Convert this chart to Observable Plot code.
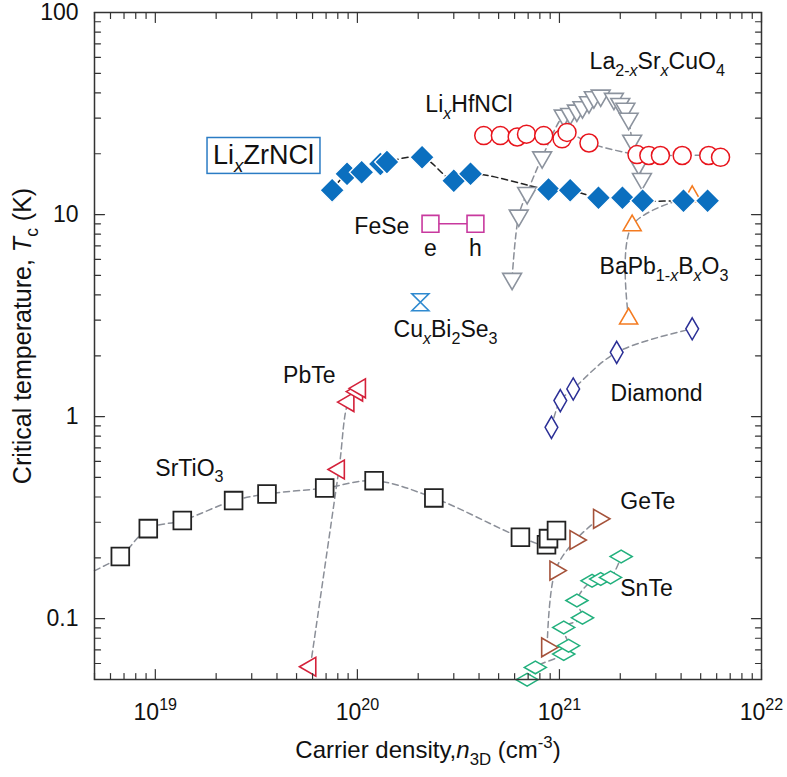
<!DOCTYPE html>
<html><head><meta charset="utf-8">
<script src="https://cdn.jsdelivr.net/npm/d3@7"></script>
<script src="https://cdn.jsdelivr.net/npm/@observablehq/plot@0.6"></script>
<style>
html,body{margin:0;padding:0;background:#fff;}
#chart svg{display:block;}
</style></head><body><div id="chart"></div>
<script>
const FONT = '"Liberation Sans", Arial, Helvetica, sans-serif';

// ---- axis settings / ticks ----
const xDomain = [5e18, 1e22];
const yDomain = [0.05, 100];
const xTickValues = [1e19, 1e20, 1e21, 1e22];
const yTickValues = [0.1, 1, 10, 100];
const minorMultipliers = [2, 3, 4, 5, 6, 7, 8, 9];

// ---- data (carrier density n3D in cm^-3, Tc in K) ----
const zrncl_n  = [7.50e19, 8.89e19, 1.05e20, 1.30e20, 1.40e20, 2.09e20, 3.00e20, 3.63e20, 8.83e20, 1.13e21, 1.56e21, 2.05e21, 2.58e21, 4.11e21, 5.41e21];
const zrncl_tc = [13.2, 15.9, 16.2, 17.8, 18.2, 19.2, 14.7, 15.9, 13.3, 13.2, 12.1, 12.1, 11.7, 11.7, 11.7];

const hfncl_n  = [4.22e20, 5.10e20, 6.18e20, 6.87e20, 8.36e20, 1.03e21, 1.09e21, 1.40e21, 2.42e21, 2.77e21, 3.16e21, 4.05e21, 5.48e21, 6.27e21];
const hfncl_tc = [24.6, 24.6, 24.2, 25.0, 24.6, 23.7, 25.5, 22.6, 19.8, 19.6, 19.6, 19.6, 19.6, 19.2];

const lsco_n  = [5.83e20, 6.29e20, 6.92e20, 8.21e20, 1.05e21, 1.13e21, 1.22e21, 1.30e21, 1.40e21, 1.48e21, 1.60e21, 1.86e21, 2.00e21, 2.12e21, 2.20e21, 2.29e21, 2.47e21, 2.56e21];
const lsco_tc = [4.81, 9.89, 12.8, 19.2, 30.9, 31.5, 32.7, 34.0, 36.0, 38.1, 38.8, 37.4, 35.3, 33.4, 29.8, 23.2, 17.8, 15.0];

const fese_n  = [2.30e20, 3.84e20];
const fese_tc = [9.0, 9.0];
const fese_carrier = ["e", "h"];
const fese_carrier_tc = [6.27, 6.27];

const cubise_n  = [2.05e20];
const cubise_tc = [3.68];

const bapb_n  = [2.20e21, 2.29e21, 4.54e21];
const bapb_tc = [3.05, 8.83, 12.3];

const diamond_n  = [9.13e20, 1.01e21, 1.17e21, 1.92e21, 4.54e21];
const diamond_tc = [0.885, 1.20, 1.37, 2.08, 2.72];

const sto_n  = [6.71e18, 9.23e18, 1.36e19, 2.44e19, 3.57e19, 6.89e19, 1.21e20, 2.39e20, 6.41e20, 8.63e20, 8.83e20, 9.67e20];
const sto_tc = [0.203, 0.279, 0.306, 0.384, 0.414, 0.443, 0.482, 0.396, 0.253, 0.232, 0.249, 0.273];
const sto_lead_n  = [5e18];
const sto_lead_tc = [0.173];

const pbte_n  = [5.85e19, 8.10e19, 9.03e19, 9.97e19, 1.03e20];
const pbte_tc = [0.0578, 0.547, 1.18, 1.33, 1.38];

const gete_n  = [8.69e20, 9.55e20, 1.20e21, 1.57e21];
const gete_tc = [0.0721, 0.173, 0.245, 0.312];

const snte_n  = [6.92e20, 7.60e20, 1.05e21, 1.11e21, 1.05e21, 1.30e21, 1.22e21, 1.45e21, 1.60e21, 1.79e21, 2.02e21];
const snte_tc = [0.0499, 0.0574, 0.0668, 0.0735, 0.0905, 0.101, 0.123, 0.154, 0.157, 0.160, 0.203];

// ---- labels ----
const label_text = ["Li{_*x*}HfNCl", "La{_2-*x*}Sr{_*x*}CuO{_4}", "FeSe", "Cu{_*x*}Bi{_2}Se{_3}", "BaPb{_1-*x*}B{_*x*}O{_3}", "Diamond", "PbTe", "SrTiO{_3}", "GeTe", "SnTe"];
const label_n    = [2.17e20, 1.41e21, 9.66e19, 1.51e20, 1.58e21, 1.79e21, 4.29e19, 1.0e19, 2.00e21, 2.00e21];
const label_tc   = [32.1, 52.6, 8.02, 2.47, 5.08, 1.19, 1.46, 0.511, 0.349, 0.130];
const zr_label_text = ["Li{_*x*}ZrNCl"];
const zr_label_n = [1.93e19];
const zr_label_tc = [17.8];

const xTitle = "Carrier density,*n*{_3D} (cm{^-3})";
const yTitle = "Critical temperature, *T*{_c} (K)";

// ---- helpers ----
const pts = (n, t) => n.map((v, i) => ({n: v, tc: t[i]}));
const labs = (t, n, tc) => t.map((s, i) => ({t: s, n: n[i], tc: tc[i]}));
function minorTicks(domain) {
  const out = [];
  for (let e = Math.floor(Math.log10(domain[0])) ; e <= Math.ceil(Math.log10(domain[1])); e++)
    for (const m of minorMultipliers) {
      const v = m * Math.pow(10, e);
      if (v >= domain[0] * 0.999 && v <= domain[1] * 1.001) out.push(v);
    }
  return out;
}
const tickShape = {draw(ctx, l) { ctx.moveTo(0, 0); ctx.lineTo(0, -l); }};
function ticks(data, channel, frameAnchor, rotate, length) {
  return Plot.vector(data, {[channel]: d => d, frameAnchor, rotate, length, anchor: "start", shape: tickShape, stroke: "#333", strokeWidth: 1.2});
}
const hourglass = {draw(ctx, size) {
  const h = Math.sqrt(size) / 2;
  ctx.moveTo(-h, -h); ctx.lineTo(h, -h); ctx.lineTo(-h, h); ctx.lineTo(h, h); ctx.closePath();
}};

const GRAY = "#8b8f98";
const dash = {x: "n", y: "tc", stroke: GRAY, strokeWidth: 1.5, strokeDasharray: "6,4", curve: "catmull-rom"};
const xMinor = minorTicks(xDomain), yMinor = minorTicks(yDomain);

const plot = Plot.plot({
  width: 787, height: 777,
  marginLeft: 94, marginRight: 26, marginTop: 12, marginBottom: 98,
  x: {type: "log", domain: xDomain, axis: null},
  y: {type: "log", domain: yDomain, axis: null},
  style: {fontFamily: FONT, color: "#111", background: "#fff", overflow: "visible"},
  marks: [
    // dashed guide lines
    Plot.line(pts(sto_lead_n.concat(sto_n), sto_lead_tc.concat(sto_tc)), dash),
    Plot.line(pts(pbte_n, pbte_tc), dash),
    Plot.line(pts(gete_n, gete_tc), dash),
    Plot.line(pts(snte_n, snte_tc), dash),
    Plot.line(pts(diamond_n, diamond_tc), dash),
    Plot.line(pts(bapb_n, bapb_tc), dash),
    Plot.line(pts(lsco_n, lsco_tc), dash),
    Plot.line(pts(hfncl_n, hfncl_tc), dash),
    Plot.line(pts(zrncl_n, zrncl_tc), {...dash, stroke: "#222", strokeDasharray: "6,4"}),
    Plot.line(pts(fese_n, fese_tc), {x: "n", y: "tc", stroke: "#c8399e", strokeWidth: 1.5}),
    // markers
    Plot.dot(pts(sto_n, sto_tc), {x: "n", y: "tc", symbol: "square", r: 10, fill: "white", stroke: "#222", strokeWidth: 1.8}),
    Plot.dot(pts(pbte_n, pbte_tc), {x: "n", y: "tc", symbol: "triangle", rotate: -90, r: 7, fill: "white", stroke: "#d4213a", strokeWidth: 1.6}),
    Plot.dot(pts(gete_n, gete_tc), {x: "n", y: "tc", symbol: "triangle", rotate: 90, r: 7, fill: "white", stroke: "#a5523a", strokeWidth: 1.6}),
    Plot.dot(pts(snte_n, snte_tc), {x: "n", y: "tc", symbol: "diamond", rotate: 90, r: 6.7, fill: "white", stroke: "#22b07d", strokeWidth: 1.5}),
    Plot.dot(pts(diamond_n, diamond_tc), {x: "n", y: "tc", symbol: "diamond", r: 6.7, fill: "white", stroke: "#2b2f96", strokeWidth: 1.5}),
    Plot.dot(pts(bapb_n, bapb_tc), {x: "n", y: "tc", symbol: "triangle", r: 6.7, fill: "white", stroke: "#f47b20", strokeWidth: 1.6}),
    Plot.dot(pts(lsco_n, lsco_tc), {x: "n", y: "tc", symbol: "triangle", rotate: 180, r: 7, fill: "white", stroke: "#8c939e", strokeWidth: 1.6}),
    Plot.dot(pts(hfncl_n, hfncl_tc), {x: "n", y: "tc", symbol: "circle", r: 9, fill: "white", stroke: "#e8141c", strokeWidth: 1.5}),
    Plot.dot(pts(fese_n, fese_tc), {x: "n", y: "tc", symbol: "square", r: 9.5, fill: "white", stroke: "#c8399e", strokeWidth: 1.6}),
    Plot.dot(pts(cubise_n, cubise_tc), {x: "n", y: "tc", symbol: hourglass, r: 9.6, fill: "white", stroke: "#2f8ad0", strokeWidth: 1.6}),
    Plot.dot(pts(zrncl_n, zrncl_tc), {x: "n", y: "tc", symbol: "diamond2", r: 11, fill: "#0b6fbf", stroke: "white", strokeWidth: 1.3}),
    // frame and ticks
    Plot.frame({stroke: "#333", strokeWidth: 1.5}),
    ticks(xTickValues, "x", "bottom", 0, 10), ticks(xMinor, "x", "bottom", 0, 6),
    ticks(xTickValues, "x", "top", 180, 10), ticks(xMinor, "x", "top", 180, 6),
    ticks(yTickValues, "y", "left", 90, 10), ticks(yMinor, "y", "left", 90, 6),
    ticks(yTickValues, "y", "right", -90, 10), ticks(yMinor, "y", "right", -90, 6),
    Plot.axisX(xTickValues, {tickSize: 0, tickPadding: 24, fontSize: 23, label: null, tickFormat: d => "10{^" + Math.round(Math.log10(d)) + "}"}),
    Plot.axisY(yTickValues, {tickSize: 0, tickPadding: 16, fontSize: 23, label: null, tickFormat: d => String(d)}),
    // axis titles
    Plot.text([xTitle], {frameAnchor: "bottom", dy: 71, fontSize: 24, text: d => d, textAnchor: "middle", lineAnchor: "middle"}),
    Plot.text([yTitle], {frameAnchor: "left", dx: -72, dy: -10, rotate: -90, fontSize: 25, text: d => d, textAnchor: "middle", lineAnchor: "middle"}),
    // annotations
    Plot.text(labs(label_text, label_n, label_tc), {x: "n", y: "tc", text: "t", textAnchor: "start", lineAnchor: "bottom", fontSize: 23, fill: "#111"}),
    Plot.text(labs(fese_carrier, fese_n, fese_carrier_tc), {x: "n", y: "tc", text: "t", textAnchor: "middle", lineAnchor: "bottom", fontSize: 23, fill: "#111"}),
    Plot.text(labs(zr_label_text, zr_label_n, zr_label_tc), {x: "n", y: "tc", text: "t", textAnchor: "start", lineAnchor: "bottom", fontSize: 27, fill: "#111", className: "zr-label"})
  ]
});

document.getElementById("chart").appendChild(plot);

// ---- rich text (sub/superscripts, italics) ----
function richify(el) {
  const src = el.textContent;
  if (!/[{}*]/.test(src)) return;
  const fs = parseFloat(getComputedStyle(el).fontSize) || 16;
  const small = (0.7 * fs).toFixed(1);
  const shifts = {n: 0, sub: 0.3 * fs, sup: -0.42 * fs};
  while (el.firstChild) el.removeChild(el.firstChild);
  let mode = "n", ital = false, buf = "", cur = 0;
  const flush = () => {
    if (!buf) return;
    const t = document.createElementNS("http://www.w3.org/2000/svg", "tspan");
    t.textContent = buf;
    const s = shifts[mode];
    if (s !== cur) { t.setAttribute("dy", (s - cur).toFixed(2)); cur = s; }
    if (mode !== "n") t.setAttribute("font-size", small);
    if (ital) t.setAttribute("font-style", "italic");
    el.appendChild(t);
    buf = "";
  };
  for (let i = 0; i < src.length; i++) {
    const c = src[i];
    if (c === "{" && (src[i + 1] === "_" || src[i + 1] === "^")) { flush(); mode = src[i + 1] === "_" ? "sub" : "sup"; i++; }
    else if (c === "}") { flush(); mode = "n"; }
    else if (c === "*") { flush(); ital = !ital; }
    else buf += c;
  }
  flush();
}
plot.querySelectorAll("text").forEach(richify);

// ---- box around the LixZrNCl label ----
plot.querySelectorAll("g.zr-label text").forEach(t => {
  const b = t.getBBox();
  const fs = parseFloat(getComputedStyle(t).fontSize) || 27;
  const r = document.createElementNS("http://www.w3.org/2000/svg", "rect");
  r.setAttribute("x", b.x - 6); r.setAttribute("y", -0.98 * fs);
  r.setAttribute("width", b.width + 12); r.setAttribute("height", 1.33 * fs);
  r.setAttribute("fill", "none"); r.setAttribute("stroke", "#2b7cc4"); r.setAttribute("stroke-width", 1.5);
  if (t.getAttribute("transform")) r.setAttribute("transform", t.getAttribute("transform"));
  t.parentNode.insertBefore(r, t);
});
</script></body></html>
